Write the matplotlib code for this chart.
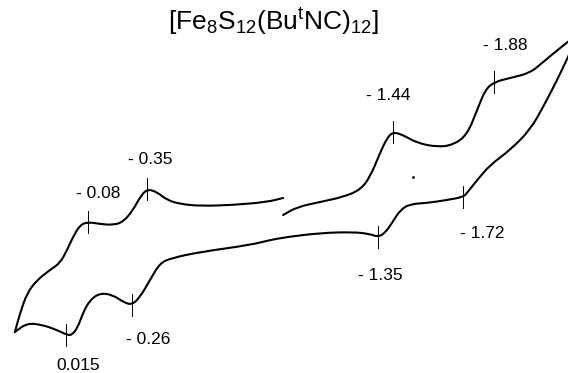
import numpy as np
import matplotlib.pyplot as plt
from matplotlib.path import Path
from matplotlib.patches import PathPatch

plt.rcParams['font.family'] = ['Liberation Sans', 'DejaVu Sans']
plt.rcParams['mathtext.fontset'] = 'custom'
plt.rcParams['mathtext.rm'] = 'Liberation Sans'
plt.rcParams['mathtext.default'] = 'rm'

# forward (cathodic) scan: potential (V) and current (arb.)
E_fwd1 = [0.241, 0.218, 0.187, 0.143, 0.086, 0.041, 0.010, -0.016, -0.047, -0.083,
          -0.136, -0.193, -0.238, -0.282, -0.313, -0.344, -0.388, -0.432, -0.490,
          -0.578, -0.725, -0.875, -0.946]
i_fwd1 = [-3.2, -1.3, 0.7, 2.0, 3.0, 3.7, 5.0, 6.3, 7.5, 7.8,
          7.6, 7.5, 7.8, 9.0, 10.3, 11.1, 10.8, 10.0, 9.6,
          9.4, 9.5, 9.8, 10.2]

E_fwd2 = [-0.946, -1.008, -1.110, -1.211, -1.287, -1.331, -1.375, -1.406, -1.433,
          -1.477, -1.539, -1.628, -1.698, -1.760, -1.805, -1.840, -1.880, -1.951,
          -2.039, -2.097, -2.172, -2.256]
i_fwd2 = [8.5, 9.3, 9.8, 10.3, 11.0, 12.3, 14.7, 16.2, 16.8,
          16.5, 15.7, 15.3, 15.5, 16.5, 19.0, 21.0, 21.8, 22.2,
          22.7, 23.8, 25.2, 26.7]

# reverse (anodic) scan
E_rev = [-2.256, -2.207, -2.159, -2.097, -2.039, -1.951, -1.862, -1.805, -1.760, -1.743,
         -1.672, -1.583, -1.508, -1.464, -1.428, -1.397, -1.366, -1.331, -1.256,
         -1.110, -0.964, -0.888, -0.800, -0.578, -0.454, -0.401, -0.357, -0.313,
         -0.277, -0.238, -0.193, -0.136, -0.091, -0.060, -0.038, -0.012, 0.010,
         0.055, 0.117, 0.187, 0.241]
i_rev = [26.7, 24.3, 22.0, 19.3, 17.0, 15.0, 13.5, 12.0, 10.7, 10.3,
         10.0, 9.7, 9.6, 9.0, 7.7, 6.7, 6.3, 6.6, 6.8,
         6.7, 6.3, 6.0, 5.5, 4.8, 4.2, 3.7, 2.0, 0.3,
         -0.5, -0.2, 0.5, 0.7, 0.0, -1.3, -2.7, -3.5, -3.5,
         -3.0, -2.5, -2.3, -3.2]

# peak potentials and the current on the curve there
peak_labels = ['- 0.08', '- 0.35', '0.015', '- 0.26', '- 1.44', '- 1.88', '- 1.72', '- 1.35']
peak_E = [-0.083, -0.344, 0.015, -0.277, -1.433, -1.880, -1.743, -1.366]
peak_i = [7.8, 11.1, -3.5, -0.5, 16.8, 21.8, 10.3, 6.3]

# where the labels sit (layout)
lab_E = [-0.127, -0.357, -0.038, -0.348, -1.411, -1.929, -1.827, -1.375]
lab_i = [10.6, 14.1, -6.6, -3.9, 20.5, 25.5, 6.7, 2.5]


def smooth_path(xs, ys):
    # quadratic bezier through the midpoints, so the trace is drawn smooth
    pts = list(zip(xs, ys))
    verts = [pts[0]]
    codes = [Path.MOVETO]
    mid = lambda a, b: ((a[0] + b[0]) / 2, (a[1] + b[1]) / 2)
    verts.append(mid(pts[0], pts[1]))
    codes.append(Path.LINETO)
    for k in range(1, len(pts) - 1):
        verts += [pts[k], mid(pts[k], pts[k + 1])]
        codes += [Path.CURVE3, Path.CURVE3]
    verts.append(pts[-1])
    codes.append(Path.LINETO)
    return Path(verts, codes)


fig = plt.figure(figsize=(5.68, 3.73), dpi=100)
ax = fig.add_axes([0, 0, 1, 1])

for xs, ys in [(E_fwd1, i_fwd1), (E_fwd2, i_fwd2), (E_rev, i_rev)]:
    ax.add_patch(PathPatch(smooth_path(xs, ys), fc='none', ec='black', lw=1.5,
                           capstyle='round', joinstyle='round'))

# little tick marks at the peaks
for e, c in zip(peak_E, peak_i):
    ax.plot([e, e], [c - 1.1, c + 1.1], c='black', lw=0.7)

for t, e, c in zip(peak_labels, lab_E, lab_i):
    ax.text(e, c, t, fontsize=12.5, ha='center', va='center')

ax.plot([-1.521], [12.3], 'o', c='black', ms=1)

ax.set_xlim(0.307, -2.207)
ax.set_ylim(-7.3, 30.0)
ax.axis('off')

fig.text(274 / 568, 1 - 22 / 373, r'[Fe$_8$S$_{12}$(Bu$^t$NC)$_{12}$]',
         fontsize=19, ha='center', va='center')

plt.savefig('out.png', dpi=100)
